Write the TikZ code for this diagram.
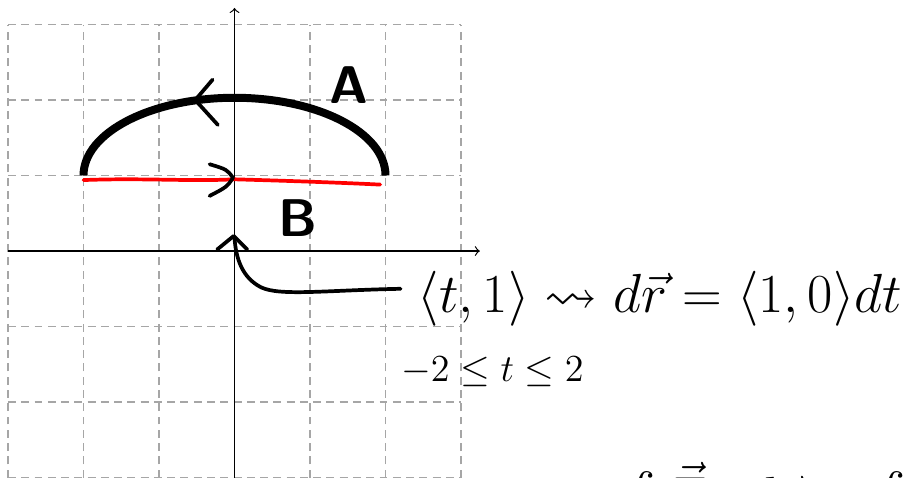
\documentclass[tikz,border=0pt]{standalone}
\usepackage{amssymb}
\begin{document}
\begin{tikzpicture}[
  gridline/.style={draw=black!35, line width=0.45pt, dash pattern=on 3pt off 2pt},
  axisline/.style={draw=black, line width=0.45pt, ->},
  inkthick/.style={draw=black, line width=3pt},
  inkarrow/.style={draw=black, line width=1.4pt, line cap=round, line join=round},
  redink/.style={draw=red, line width=1.4pt, line cap=round},
  hand/.style={font=\fontsize{20}{22}\selectfont, inner sep=0pt, anchor=west}
]
\useasboundingbox (-3.106,-2.993) rectangle (8.854,3.325);
% grid
\foreach \x in {-3,-2,-1,1,2,3} \draw[gridline] (\x,-3) -- (\x,3);
\foreach \y in {-3,-2,-1,1,2,3} \draw[gridline] (-3,\y) -- (3,\y);
% axes
\coordinate (xs) at (-3,0); \coordinate (xe) at (3.25,0);
\coordinate (ys) at (0,-3.1); \coordinate (ye) at (0,3.22);
\draw[axisline] (xs) -- (xe);
\draw[axisline] (ys) -- (ye);
% arc A
\coordinate (aL) at (-2,1); \coordinate (aR) at (2,1);
\draw[inkthick] (aL) arc[start angle=180, end angle=0, x radius=2, y radius=1.03];
% chevron on arc
\coordinate (cA1) at (-0.29,2.27); \coordinate (cAt) at (-0.52,2.0); \coordinate (cA2) at (-0.22,1.67);
\draw[inkarrow] (cA1) -- (cAt) -- (cA2);
% red segment B
\coordinate (bL) at (-2,0.94); \coordinate (bR) at (1.93,0.88);
\draw[redink] (bL) .. controls (-1.2,0.97) and (-0.6,0.92) .. (0,0.95) .. controls (0.7,0.93) and (1.3,0.91) .. (bR);
% chevron on red
\coordinate (cB1) at (-0.33,1.15); \coordinate (cBt) at (-0.02,0.97); \coordinate (cB2) at (-0.33,0.73);
\draw[inkarrow] (cB1) .. controls (-0.1,1.08) .. (cBt) .. controls (-0.1,0.85) .. (cB2);
% labels
\node[font=\sffamily\bfseries\fontsize{20}{22}\selectfont] (A) at (1.51,2.2) {A};
\node[font=\sffamily\bfseries\fontsize{20}{22}\selectfont] (B) at (0.84,0.43) {B};
% pointer
\coordinate (pS) at (2.2,-0.5);
\coordinate (pT) at (0.0,0.17);
\draw[inkarrow] (pS) .. controls (1.2,-0.52) and (0.6,-0.6) .. (0.35,-0.48) .. controls (0.1,-0.35) and (0.02,-0.1) .. (pT);
\coordinate (pA1) at (-0.23,0.02); \coordinate (pAt) at (-0.01,0.2); \coordinate (pA2) at (0.17,0.02);
\draw[inkarrow] (pA1) -- (pAt) -- (pA2);
% equations
\node[hand] (eq1) at (2.42,-0.63) {$\langle t,1\rangle \rightsquigarrow d\vec{r} = \langle 1,0\rangle dt$};
\node[hand, font=\fontsize{14}{16}\selectfont] (eq2) at (2.2,-1.6) {$-2\le t\le 2$};
% cut-off line at the bottom
\begin{scope}
\clip (-3.106,-2.993) rectangle (8.854,3.325);
\node[hand] (eq3) at (5.1,-3.25) {$\int \vec{F}\cdot d\vec{r} = \int$};
\end{scope}
\end{tikzpicture}
\end{document}
